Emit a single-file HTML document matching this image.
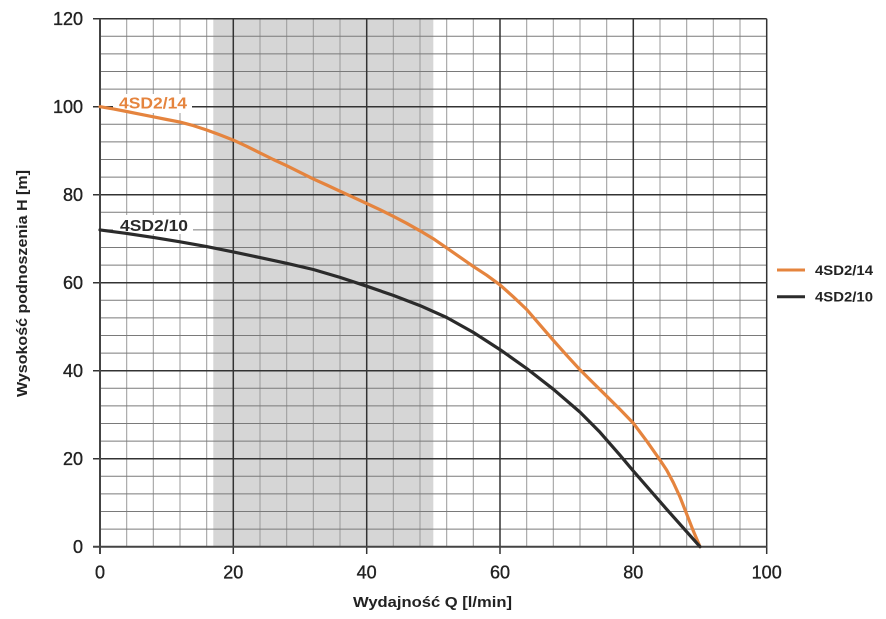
<!DOCTYPE html>
<html>
<head>
<meta charset="utf-8">
<style>
html,body{margin:0;padding:0;background:#fff;}
svg{display:block;}
text{font-family:"Liberation Sans",Arial,sans-serif;}
.tick{font-size:18px;fill:#222;stroke:#222;stroke-width:0.35px;}
</style>
</head>
<body>
<svg width="886" height="619" viewBox="0 0 886 619" xmlns="http://www.w3.org/2000/svg">
<rect x="0" y="0" width="886" height="619" fill="#fff"/>
<rect x="213.3" y="18.7" width="220" height="528" fill="#d6d6d6"/>
<g stroke="#9a9a9a" stroke-width="1">
<line x1="126.7" y1="18.7" x2="126.7" y2="546.7"/>
<line x1="153.3" y1="18.7" x2="153.3" y2="546.7"/>
<line x1="180" y1="18.7" x2="180" y2="546.7"/>
<line x1="206.7" y1="18.7" x2="206.7" y2="546.7"/>
<line x1="260" y1="18.7" x2="260" y2="546.7"/>
<line x1="286.7" y1="18.7" x2="286.7" y2="546.7"/>
<line x1="313.3" y1="18.7" x2="313.3" y2="546.7"/>
<line x1="340" y1="18.7" x2="340" y2="546.7"/>
<line x1="393.3" y1="18.7" x2="393.3" y2="546.7"/>
<line x1="420" y1="18.7" x2="420" y2="546.7"/>
<line x1="446.7" y1="18.7" x2="446.7" y2="546.7"/>
<line x1="473.3" y1="18.7" x2="473.3" y2="546.7"/>
<line x1="526.7" y1="18.7" x2="526.7" y2="546.7"/>
<line x1="553.3" y1="18.7" x2="553.3" y2="546.7"/>
<line x1="580" y1="18.7" x2="580" y2="546.7"/>
<line x1="606.7" y1="18.7" x2="606.7" y2="546.7"/>
<line x1="660" y1="18.7" x2="660" y2="546.7"/>
<line x1="686.7" y1="18.7" x2="686.7" y2="546.7"/>
<line x1="713.3" y1="18.7" x2="713.3" y2="546.7"/>
<line x1="740" y1="18.7" x2="740" y2="546.7"/>
</g>
<g stroke="#7a7a7a" stroke-width="1">
<line x1="100" y1="529.1" x2="766.7" y2="529.1"/>
<line x1="100" y1="511.5" x2="766.7" y2="511.5"/>
<line x1="100" y1="493.9" x2="766.7" y2="493.9"/>
<line x1="100" y1="476.3" x2="766.7" y2="476.3"/>
<line x1="100" y1="441.1" x2="766.7" y2="441.1"/>
<line x1="100" y1="423.5" x2="766.7" y2="423.5"/>
<line x1="100" y1="405.9" x2="766.7" y2="405.9"/>
<line x1="100" y1="388.3" x2="766.7" y2="388.3"/>
<line x1="100" y1="353.1" x2="766.7" y2="353.1"/>
<line x1="100" y1="335.5" x2="766.7" y2="335.5"/>
<line x1="100" y1="317.9" x2="766.7" y2="317.9"/>
<line x1="100" y1="300.3" x2="766.7" y2="300.3"/>
<line x1="100" y1="265.1" x2="766.7" y2="265.1"/>
<line x1="100" y1="247.5" x2="766.7" y2="247.5"/>
<line x1="100" y1="229.9" x2="766.7" y2="229.9"/>
<line x1="100" y1="212.3" x2="766.7" y2="212.3"/>
<line x1="100" y1="177.1" x2="766.7" y2="177.1"/>
<line x1="100" y1="159.5" x2="766.7" y2="159.5"/>
<line x1="100" y1="141.9" x2="766.7" y2="141.9"/>
<line x1="100" y1="124.3" x2="766.7" y2="124.3"/>
<line x1="100" y1="89.1" x2="766.7" y2="89.1"/>
<line x1="100" y1="71.5" x2="766.7" y2="71.5"/>
<line x1="100" y1="53.9" x2="766.7" y2="53.9"/>
<line x1="100" y1="36.3" x2="766.7" y2="36.3"/>
</g>
<g stroke="#333" stroke-width="1.5">
<line x1="233.3" y1="18.7" x2="233.3" y2="554"/>
<line x1="366.7" y1="18.7" x2="366.7" y2="554"/>
<line x1="500" y1="18.7" x2="500" y2="554"/>
<line x1="633.3" y1="18.7" x2="633.3" y2="554"/>
<line x1="766.7" y1="18.7" x2="766.7" y2="554"/>
<line x1="93" y1="458.7" x2="766.7" y2="458.7"/>
<line x1="93" y1="370.7" x2="766.7" y2="370.7"/>
<line x1="93" y1="282.7" x2="766.7" y2="282.7"/>
<line x1="93" y1="194.7" x2="766.7" y2="194.7"/>
<line x1="93" y1="106.7" x2="766.7" y2="106.7"/>
<line x1="93" y1="18.7" x2="766.7" y2="18.7"/>
</g>
<g stroke="#444" stroke-width="2">
<line x1="100" y1="18.7" x2="100" y2="554"/>
<line x1="93" y1="546.7" x2="766.7" y2="546.7"/>
</g>
<rect x="113" y="94" width="79" height="19" fill="#fff"/>
<rect x="113" y="215" width="80" height="19" fill="#fff"/>
<polyline fill="none" stroke="#e5843e" stroke-width="3.2" stroke-linejoin="round" stroke-linecap="round"
points="100,106.7 113.3,108.9 126.7,111.5 140,114.2 153.3,116.8 166.7,119.5 180,122.1 193.3,125.6 206.7,130 220,134.9 233.3,140.1 246.7,146.3 260,152.9 273.3,159.5 286.7,165.7 300,172.3 313.3,178.9 326.7,185 340,191.2 353.3,197.3 366.7,203.5 380,209.7 393.3,216.3 406.7,223.3 420,230.8 433.3,238.7 446.7,247.9 460,257.2 473.3,266.4 486.7,275.2 500,284.9 513.3,296.8 526.7,309.5 540,324.9 553.3,340.3 566.7,355.3 580,369.8 593.3,383 606.7,396.2 620,409.4 633.3,423.1 646.7,441.1 660,460 666.7,470.1 673.3,482.5 680,497 686.7,514.1 693.3,530.9 700,546.7"/>
<polyline fill="none" stroke="#2b2b2b" stroke-width="3.2" stroke-linejoin="round" stroke-linecap="round"
points="100,229.9 126.7,233.4 153.3,237.4 180,241.8 206.7,246.6 233.3,251.9 260,257.6 286.7,263.3 313.3,269.5 340,277.4 366.7,286.2 393.3,295.4 420,305.6 446.7,317.5 473.3,332.4 500,349.6 526.7,368.5 553.3,389.2 580,412.1 600,432.3 620,455.2 633.3,471 666.7,509.3 700,546.7"/>
<text x="119" y="108.5" font-size="16" font-weight="bold" fill="#e5843e" textLength="68" lengthAdjust="spacingAndGlyphs">4SD2/14</text>
<text x="120" y="231" font-size="16" font-weight="bold" fill="#2b2b2b" textLength="68" lengthAdjust="spacingAndGlyphs">4SD2/10</text>
<g class="tick" text-anchor="end">
<text x="83" y="553">0</text>
<text x="83" y="465">20</text>
<text x="83" y="377">40</text>
<text x="83" y="289">60</text>
<text x="83" y="201">80</text>
<text x="83" y="113">100</text>
<text x="83" y="25">120</text>
</g>
<g class="tick" text-anchor="middle">
<text x="100" y="578.5">0</text>
<text x="233.3" y="578.5">20</text>
<text x="366.7" y="578.5">40</text>
<text x="500" y="578.5">60</text>
<text x="633.3" y="578.5">80</text>
<text x="766.7" y="578.5">100</text>
</g>
<text x="353" y="607" font-size="14.5" font-weight="bold" fill="#222" textLength="159" lengthAdjust="spacingAndGlyphs">Wydajność Q [l/min]</text>
<text transform="translate(27,397) rotate(-90)" x="0" y="0" font-size="14.5" font-weight="bold" fill="#222" textLength="227" lengthAdjust="spacingAndGlyphs">Wysokość podnoszenia H [m]</text>
<line x1="777" y1="270" x2="805" y2="270" stroke="#e5843e" stroke-width="3"/>
<line x1="777" y1="296.7" x2="805" y2="296.7" stroke="#2b2b2b" stroke-width="3"/>
<text x="815" y="275" font-size="13.5" font-weight="bold" fill="#222" textLength="58" lengthAdjust="spacingAndGlyphs">4SD2/14</text>
<text x="815" y="301.7" font-size="13.5" font-weight="bold" fill="#222" textLength="58" lengthAdjust="spacingAndGlyphs">4SD2/10</text>
</svg>
</body>
</html>
